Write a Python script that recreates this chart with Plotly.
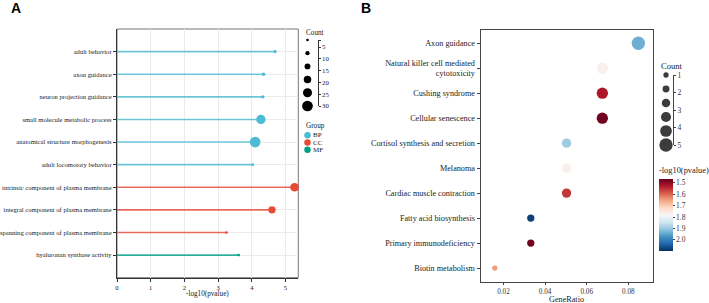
import plotly.graph_objects as go

W, H = 709, 303


def px(x):
    return x / W


def py(y):
    return 1 - y / H


SERIF = "Liberation Serif"
SANS = "Liberation Sans"

# ---------------- Panel A data ----------------
go_terms = [
    "adult behavior",
    "axon guidance",
    "neuron projection guidance",
    "small molecule metabolic process",
    "anatomical structure morphogenesis",
    "adult locomotory behavior",
    "intrinsic component of plasma membrane",
    "integral component of plasma membrane",
    "spanning component of plasma membrane",
    "hyaluronan synthase activity",
]
go_logp = [4.69, 4.35, 4.33, 4.27, 4.10, 4.03, 5.27, 4.60, 3.25, 3.61]
go_count = [4, 5, 4, 25, 30, 2, 23, 18, 2, 2]
go_group = ["BP", "BP", "BP", "BP", "BP", "BP", "CC", "CC", "CC", "MF"]
group_names = ["BP", "CC", "MF"]
group_colors = {"BP": "#4DBBD5", "CC": "#E64B35", "MF": "#00A087"}
count_breaks_a = [5, 10, 15, 20, 25, 30]
count_keys_a = [2, 7.6, 13.2, 18.8, 24.4, 30]
x_ticks_a = [0, 1, 2, 3, 4, 5]

# ---------------- Panel B data ----------------
kegg_terms = [
    "Axon guidance",
    "Natural killer cell mediated<br>cytotoxicity",
    "Cushing syndrome",
    "Cellular senescence",
    "Cortisol synthesis and secretion",
    "Melanoma",
    "Cardiac muscle contraction",
    "Fatty acid biosynthesis",
    "Primary immunodeficiency",
    "Biotin metabolism",
]
kegg_ratio = [0.0848, 0.0675, 0.0675, 0.0675, 0.0503, 0.0503, 0.0503, 0.0331, 0.0331, 0.0158]
kegg_count = [5, 4, 4, 4, 3, 3, 3, 2, 2, 1]
kegg_logp = [1.94, 1.77, 1.53, 1.48, 1.90, 1.77, 1.56, 2.08, 1.48, 1.65]
count_breaks_b = [1, 2, 3, 4, 5]
count_keys_b = [1, 1.8, 2.6, 3.4, 4.2, 5]
x_ticks_b = [0.02, 0.04, 0.06, 0.08]
cbar_ticks = [1.5, 1.6, 1.7, 1.8, 1.9, 2.0]
cbar_min, cbar_max = 1.47, 2.10


def size_a(c):
    return 2.7 + (c - 2) * 0.286


def size_b(c):
    return 5.3 + (c - 1) * 2.0


rdbu = ["#053061", "#2166AC", "#4393C3", "#92C5DE", "#D1E5F0", "#F7F7F7",
        "#FDDBC7", "#F4A582", "#D6604D", "#B2182B", "#67001F"]
colorscale = [[i / (len(rdbu) - 1), c] for i, c in enumerate(rdbu)]

fig = go.Figure()

# Panel A lollipop stems
for g in group_names:
    xs, ys = [], []
    for t, v, gg in zip(go_terms, go_logp, go_group):
        if gg == g:
            xs += [0, v, None]
            ys += [t, t, None]
    fig.add_trace(go.Scatter(
        x=xs, y=ys, mode="lines", xaxis="x", yaxis="y",
        line=dict(color=group_colors[g], width=1.6), opacity=0.8,
        hoverinfo="skip", showlegend=False, cliponaxis=False))

# Panel A heads
for g in group_names:
    idx = [i for i, gg in enumerate(go_group) if gg == g]
    fig.add_trace(go.Scatter(
        x=[go_logp[i] for i in idx], y=[go_terms[i] for i in idx],
        mode="markers", xaxis="x", yaxis="y",
        marker=dict(color=group_colors[g], size=[size_a(go_count[i]) for i in idx],
                    line=dict(width=0), opacity=1),
        showlegend=False, cliponaxis=False))

# Panel A count legend
fig.add_trace(go.Scatter(
    x=[0.5] * len(count_keys_a), y=count_keys_a, mode="markers",
    xaxis="x3", yaxis="y3",
    marker=dict(color="#000000", size=[size_a(c) for c in count_keys_a],
                line=dict(width=0), opacity=1),
    showlegend=False, cliponaxis=False, hoverinfo="skip"))

# Panel A group legend
fig.add_trace(go.Scatter(
    x=[0.5] * 3, y=group_names, mode="markers", xaxis="x4", yaxis="y4",
    marker=dict(color=[group_colors[g] for g in group_names], size=6.5,
                line=dict(width=0), opacity=1),
    showlegend=False, cliponaxis=False, hoverinfo="skip"))

# Panel B dots
fig.add_trace(go.Scatter(
    x=kegg_ratio, y=kegg_terms, mode="markers", xaxis="x2", yaxis="y2",
    marker=dict(
        size=[size_b(c) for c in kegg_count], opacity=1,
        color=[-v for v in kegg_logp], cmin=-cbar_max, cmax=-cbar_min,
        colorscale=colorscale, line=dict(width=0),
        colorbar=dict(
            x=px(659.3), xanchor="left", xpad=0, ypad=0,
            y=py(179.3), yanchor="top", len=72.4, lenmode="pixels",
            thickness=14, thicknessmode="pixels", outlinewidth=0,
            tickvals=[-t for t in cbar_ticks], ticktext=[f"{t:.1f}" for t in cbar_ticks],
            ticks="outside", ticklen=2, tickcolor="#444", tickwidth=1,
            tickfont=dict(family=SERIF, size=7.5, color="#333"),
        ),
    ),
    showlegend=False, cliponaxis=False))

# Panel B count legend
fig.add_trace(go.Scatter(
    x=[0.5] * len(count_keys_b), y=count_keys_b, mode="markers",
    xaxis="x5", yaxis="y5",
    marker=dict(color="#3C3C3C", size=[size_b(c) for c in count_keys_b],
                line=dict(width=0), opacity=1),
    showlegend=False, cliponaxis=False, hoverinfo="skip"))

tickfont_a = dict(family=SERIF, size=6.6, color="#222")
tickfont_b = dict(family=SERIF, size=8.2, color="#222")

fig.update_layout(
    width=W, height=H, margin=dict(l=0, r=0, t=0, b=0, autoexpand=False),
    paper_bgcolor="white", plot_bgcolor="white", showlegend=False,
    xaxis=dict(domain=[px(117), px(298.3)], range=[0, 5.38], anchor="y", automargin=False,
               tickvals=x_ticks_a, ticktext=[str(t) for t in x_ticks_a],
               showgrid=True, gridcolor="#EBEBEB", gridwidth=1, zeroline=False,
               showline=True, linecolor="#333", linewidth=1.2,
               ticks="outside", ticklen=3, tickcolor="#333", tickfont=tickfont_a),
    yaxis=dict(domain=[py(277.7), py(29)], type="category", categoryarray=go_terms,
               categoryorder="array", range=[10, -1], anchor="x", automargin=False,
               showgrid=True, gridcolor="#EBEBEB", gridwidth=1, zeroline=False,
               showline=True, linecolor="#333", linewidth=1.2,
               ticks="outside", ticklen=3, tickcolor="#333", tickfont=tickfont_a),
    xaxis2=dict(domain=[px(480.7), px(652.5)], range=[0.00904, 0.0916], anchor="y2",
                automargin=False,
                tickvals=x_ticks_b, ticktext=[f"{t:.2f}" for t in x_ticks_b],
                showgrid=False, zeroline=False, showline=True, mirror=True,
                linecolor="#444", linewidth=1.2,
                ticks="outside", ticklen=2, tickcolor="#444",
                tickfont=dict(family=SERIF, size=7.2, color="#333")),
    yaxis2=dict(domain=[py(282.3), py(30)], type="category", categoryarray=kegg_terms,
                categoryorder="array", range=[9.57, -0.53], anchor="x2", automargin=False,
                showgrid=False, zeroline=False, showline=True, mirror=True,
                linecolor="#444", linewidth=1.2,
                ticks="outside", ticklen=3, tickcolor="#444", tickfont=tickfont_b),
    xaxis3=dict(domain=[px(300), px(315)], range=[0, 1], visible=False, anchor="y3",
                automargin=False),
    yaxis3=dict(domain=[py(106), py(40)], range=[30, 2], anchor="free", position=px(317.7),
                side="right", showline=True, linecolor="#333", linewidth=1, automargin=False,
                showgrid=False, zeroline=False, ticks="outside", ticklen=2, tickcolor="#333",
                tickvals=[count_keys_a[0]] + count_breaks_a,
                ticktext=[""] + [str(b) for b in count_breaks_a],
                tickfont=dict(family=SERIF, size=6.85, color="#222")),
    xaxis4=dict(domain=[px(300), px(315)], range=[0, 1], visible=False, anchor="y4",
                automargin=False),
    yaxis4=dict(domain=[py(153.5), py(131.5)], type="category", categoryarray=group_names,
                range=[2.5, -0.5], visible=False, anchor="x4", automargin=False),
    xaxis5=dict(domain=[px(659), px(673)], range=[0, 1], visible=False, anchor="y5",
                automargin=False),
    yaxis5=dict(domain=[py(145), py(75)], range=[5, 1], anchor="free", position=px(673),
                side="right", showline=True, linecolor="#444", linewidth=1, automargin=False,
                showgrid=False, zeroline=False, ticks="outside", ticklen=2, tickcolor="#444",
                tickvals=count_breaks_b, ticktext=[str(b) for b in count_breaks_b],
                tickfont=dict(family=SERIF, size=7.5, color="#333")),
)

# Panel A frame (top/right border)
fig.add_shape(type="rect", xref="paper", yref="paper",
              x0=px(117), x1=px(298.3), y0=py(277.7), y1=py(29),
              line=dict(color="#777", width=1), layer="between")

annotations = [
    dict(text="<b>A</b>", x=px(9), y=py(8.5), xanchor="left", yanchor="middle",
         font=dict(family=SANS, size=14, color="#000")),
    dict(text="<b>B</b>", x=px(359), y=py(8.5), xanchor="left", yanchor="middle",
         font=dict(family=SANS, size=14, color="#000")),
    dict(text="-log10(pvalue)", x=px(207), y=py(294), xanchor="center", yanchor="middle",
         font=dict(family=SERIF, size=7.2, color="#222")),
    dict(text="GeneRatio", x=px(566.6), y=py(299.5), xanchor="center", yanchor="middle",
         font=dict(family=SERIF, size=8.2, color="#222")),
    dict(text="Count", x=px(303.5), y=py(33.5), xanchor="left", yanchor="middle",
         font=dict(family=SERIF, size=7.2, color="#222")),
    dict(text="Group", x=px(303.5), y=py(126), xanchor="left", yanchor="middle",
         font=dict(family=SERIF, size=7.2, color="#222")),
    dict(text="Count", x=px(658.5), y=py(65.5), xanchor="left", yanchor="middle",
         font=dict(family=SERIF, size=8.6, color="#222")),
    dict(text="-log10(pvalue)", x=px(657), y=py(171), xanchor="left", yanchor="middle",
         font=dict(family=SERIF, size=8.4, color="#222")),
]
for g in group_names:
    annotations.append(dict(text=g, x=px(310.5), xref="paper", y=g, yref="y4",
                            xanchor="left", yanchor="middle",
                            font=dict(family=SERIF, size=7, color="#222")))
for a in annotations:
    a.setdefault("xref", "paper")
    a.setdefault("yref", "paper")
    a["showarrow"] = False
fig.update_layout(annotations=annotations)

fig.write_html("out.html")
